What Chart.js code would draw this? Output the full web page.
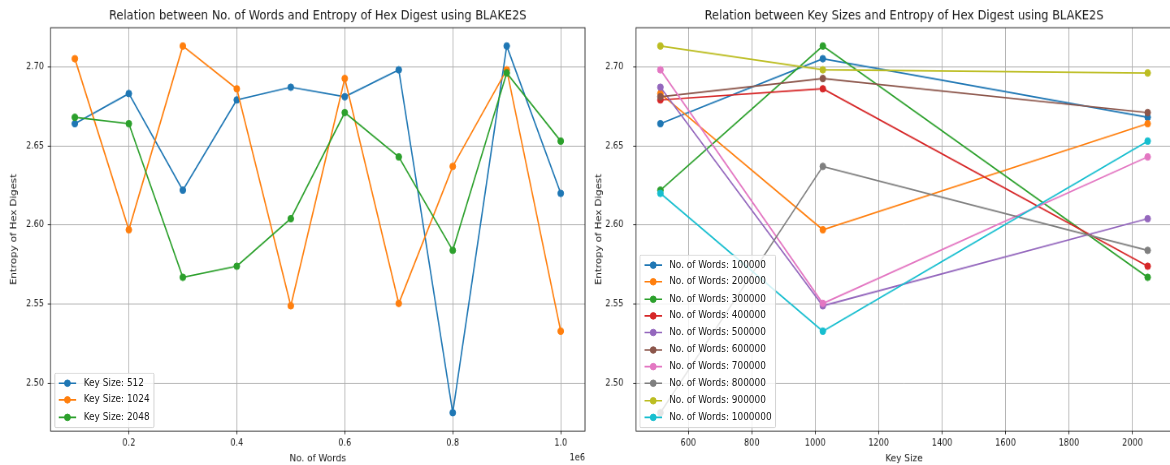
<!DOCTYPE html>
<html>
<head>
<meta charset="utf-8">
<script src="https://cdn.jsdelivr.net/npm/chart.js@4.4.1/dist/chart.umd.min.js"></script>
<style>
  html, body { margin: 0; padding: 0; background: #fff; overflow: hidden; }
  /* figure is laid out at 1450x504 and squeezed into the window */
  #figure { position: absolute; left: 0; top: 0; width: 1450px; height: 504px;
            transform: scale(0.8125, 0.9226); transform-origin: 0 0; }
  #figure canvas { position: absolute; top: 0; }
  .legend { position: absolute; background: rgba(255,255,255,0.8); border: 1px solid #ccc;
            border-radius: 2px; padding: 4px 4.4px; font: 11px "DejaVu Sans", sans-serif; color: #1a1a1a; }
  .legend-row { display: flex; align-items: center; height: 12.8px; line-height: 12.8px; white-space: nowrap; }
  .legend-row + .legend-row { margin-top: 5.5px; }
  .legend-row svg { margin-right: 8.8px; flex: none; }
</style>
</head>
<body>
<div id="figure">
  <canvas id="wordsChart" width="725" height="504" style="left:0"></canvas>
  <canvas id="keysChart" width="725" height="504" style="left:725px"></canvas>
  <div id="wordsLegend" class="legend"></div>
  <div id="keysLegend" class="legend"></div>
</div>
<script>
const wordCounts = [100000, 200000, 300000, 400000, 500000, 600000, 700000, 800000, 900000, 1000000];
const keySizes = [512, 1024, 2048];

// entropy of the hex digest, one entry per word count
const entropyKey512  = [2.664, 2.683, 2.622, 2.679, 2.687, 2.681, 2.698, 2.4815, 2.713, 2.620];
const entropyKey1024 = [2.705, 2.597, 2.713, 2.686, 2.549, 2.6925, 2.5505, 2.637, 2.698, 2.533];
const entropyKey2048 = [2.668, 2.664, 2.567, 2.574, 2.604, 2.671, 2.643, 2.584, 2.696, 2.653];

const wordTicks = [200000, 400000, 600000, 800000, 1000000];
const keyTicks = [600, 800, 1000, 1200, 1400, 1600, 1800, 2000];
const entropyTicks = [2.50, 2.55, 2.60, 2.65, 2.70];

const tab10 = ['#1f77b4', '#ff7f0e', '#2ca02c', '#d62728', '#9467bd',
               '#8c564b', '#e377c2', '#7f7f7f', '#bcbd22', '#17becf'];

const FONT = '"DejaVu Sans", sans-serif';
const INK = '#1a1a1a';
const MARKER_R = 3.6;
const byKey = [entropyKey512, entropyKey1024, entropyKey2048];

// matplotlib-style 5% margin around the data
function paddedRange(values) {
  const lo = Math.min(...values), hi = Math.max(...values);
  const pad = (hi - lo) * 0.05;
  return { min: lo - pad, max: hi + pad };
}

function lineStyle(color, i, n) {
  return {
    borderColor: color,
    backgroundColor: color,
    borderWidth: 1.7,
    pointRadius: MARKER_R,
    pointBorderWidth: 1,
    pointBackgroundColor: color,
    pointBorderColor: color,
    tension: 0,
    order: n - i   // later series sit on top
  };
}

// box round the plot, title centred over the plot, axis offset label
const axesFrame = {
  id: 'axesFrame',
  afterDatasetsDraw(chart, args, opts) {
    const { ctx, chartArea: a } = chart;
    ctx.save();
    ctx.strokeStyle = INK;
    ctx.lineWidth = 0.9;
    ctx.strokeRect(a.left, a.top, a.right - a.left, a.bottom - a.top);
    ctx.fillStyle = INK;
    ctx.textBaseline = 'middle';
    if (opts.title) {
      ctx.font = '14px ' + FONT;
      ctx.textAlign = 'center';
      ctx.fillText(opts.title, (a.left + a.right) / 2, a.top - 13);
    }
    if (opts.offsetText) {
      ctx.font = '10px ' + FONT;
      ctx.textAlign = 'right';
      ctx.fillText(opts.offsetText, a.right, a.bottom + 29.5);
    }
    ctx.restore();
  }
};

function makeAxis(o) {
  return {
    type: 'linear',
    min: o.range.min,
    max: o.range.max,
    afterBuildTicks: s => { s.ticks = o.ticks.map(v => ({ value: v })); },
    afterFit: s => { if (o.width) s.width = o.width; if (o.height) s.height = o.height; },
    border: { display: false },
    grid: { color: '#acacac', lineWidth: 0.9, tickLength: 3.5, tickColor: INK },
    ticks: { padding: o.pad, color: INK, font: { family: FONT, size: 10 },
             maxRotation: 0, autoSkip: false, callback: o.format },
    title: { display: true, text: o.title, color: INK, font: { family: FONT, size: 11 },
             padding: o.titlePad }
  };
}

function makeConfig(o) {
  return {
    type: 'line',
    data: { datasets: o.datasets },
    plugins: [axesFrame],
    options: {
      responsive: false,
      animation: false,
      events: [],
      layout: { padding: { left: 0, right: o.rightPad, top: 30, bottom: 0 } },
      scales: { x: o.x, y: o.y },
      plugins: {
        legend: { display: false },
        tooltip: { enabled: false },
        axesFrame: { title: o.title, offsetText: o.offsetText }
      }
    }
  };
}

function buildLegend(chart, el, canvasLeft) {
  el.innerHTML = chart.data.datasets.map(ds =>
    `<div class="legend-row"><svg width="22" height="12.8">` +
    `<line x1="0" y1="6.4" x2="22" y2="6.4" stroke="${ds.borderColor}" stroke-width="1.7"/>` +
    `<circle cx="11" cy="6.4" r="${MARKER_R}" fill="${ds.borderColor}" stroke="${ds.borderColor}" stroke-width="1"/>` +
    `</svg><span>${ds.label}</span></div>`).join('');
  const a = chart.chartArea;
  el.style.left = (canvasLeft + a.left + 4.6) + 'px';
  el.style.top = (a.bottom - 4 - el.offsetHeight) + 'px';
}

const entropyRange = paddedRange(byKey.flat());
const fmtEntropy = v => v.toFixed(2);

// entropy against word count, one line per key size
const wordsChart = new Chart(document.getElementById('wordsChart'), makeConfig({
  title: 'Relation between No. of Words and Entropy of Hex Digest using BLAKE2S',
  rightPad: 3.4,
  offsetText: '1e6',
  datasets: keySizes.map((k, i) => Object.assign({
    label: `Key Size: ${k}`,
    data: wordCounts.map((w, j) => ({ x: w, y: byKey[i][j] }))
  }, lineStyle(tab10[i], i, keySizes.length))),
  x: makeAxis({ range: paddedRange(wordCounts), ticks: wordTicks, height: 36.8, pad: 4,
                format: v => (v / 1e6).toFixed(1), title: 'No. of Words',
                titlePad: { top: 0, bottom: 0 } }),
  y: makeAxis({ range: entropyRange, ticks: entropyTicks, width: 62.2, pad: 4.5,
                format: fmtEntropy, title: 'Entropy of Hex Digest',
                titlePad: { top: 10.6, bottom: 0 } })
}));

// entropy against key size, one line per word count
const keysChart = new Chart(document.getElementById('keysChart'), makeConfig({
  title: 'Relation between Key Sizes and Entropy of Hex Digest using BLAKE2S',
  rightPad: 7.5,
  datasets: wordCounts.map((w, j) => Object.assign({
    label: `No. of Words: ${w}`,
    data: keySizes.map((k, i) => ({ x: k, y: byKey[i][j] }))
  }, lineStyle(tab10[j], j, wordCounts.length))),
  x: makeAxis({ range: paddedRange(keySizes), ticks: keyTicks, height: 36.8, pad: 4,
                format: v => String(v), title: 'Key Size',
                titlePad: { top: 0, bottom: 0 } }),
  y: makeAxis({ range: entropyRange, ticks: entropyTicks, width: 57.8, pad: 12,
                format: fmtEntropy, title: 'Entropy of Hex Digest',
                titlePad: { top: 5.6, bottom: 0 } })
}));

buildLegend(wordsChart, document.getElementById('wordsLegend'), 0);
buildLegend(keysChart, document.getElementById('keysLegend'), 725);
</script>
</body>
</html>
